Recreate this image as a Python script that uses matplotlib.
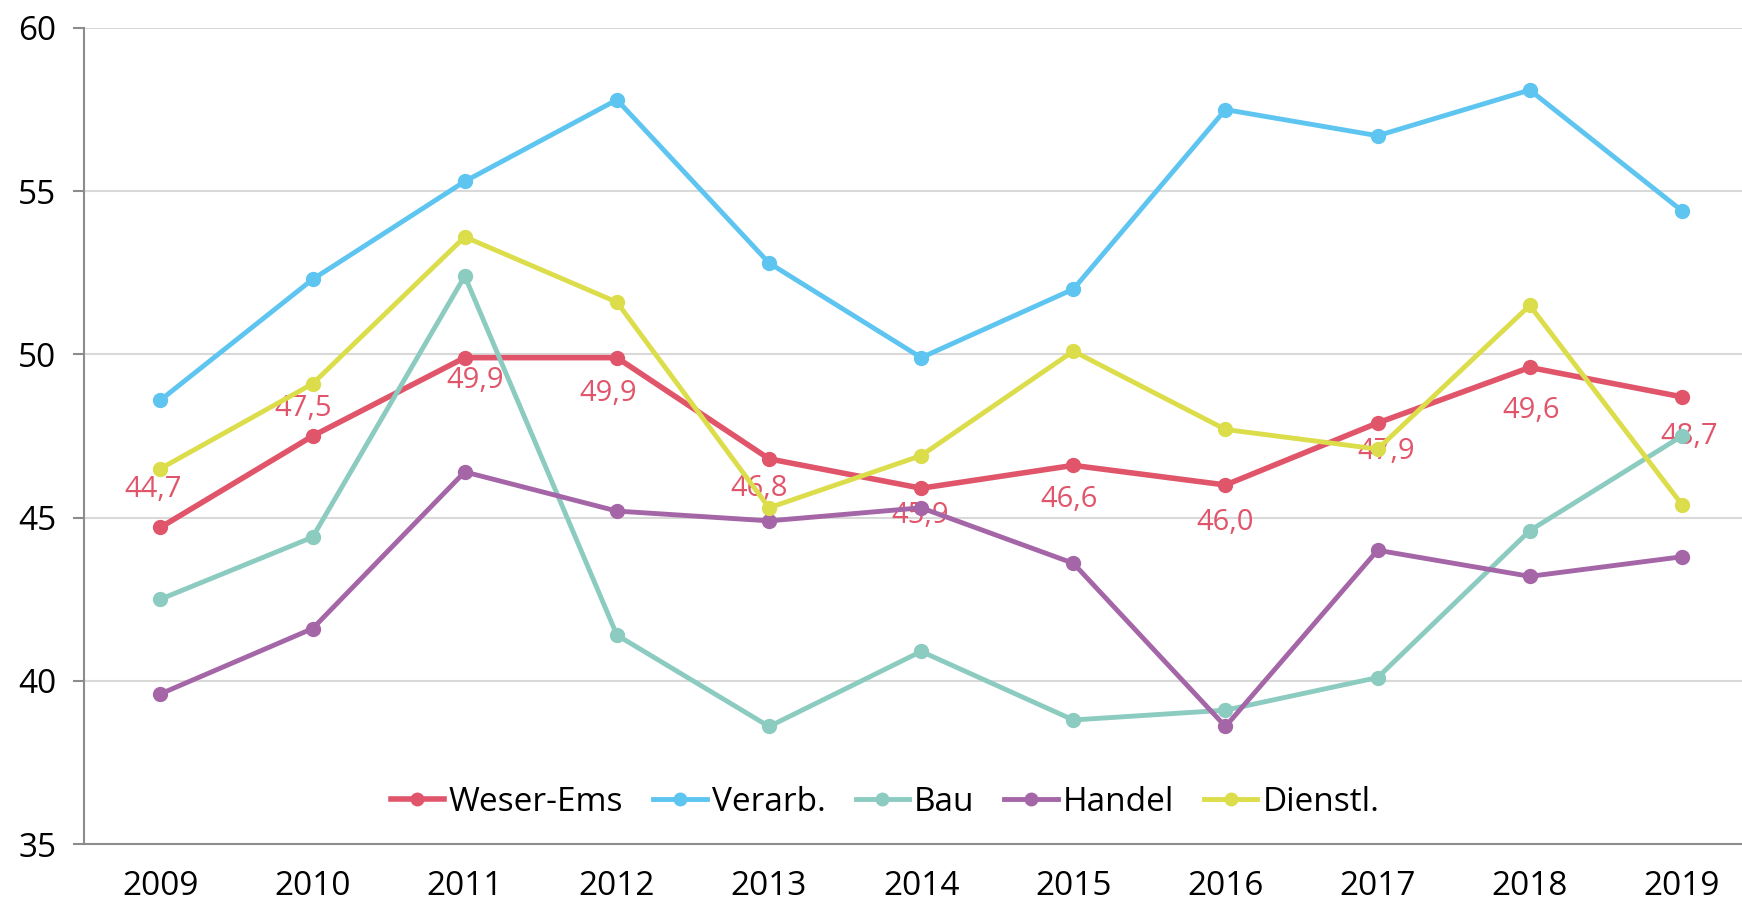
import matplotlib
matplotlib.use("Agg")
import matplotlib.pyplot as plt

plt.rcParams['font.family'] = ['Open Sans', 'DejaVu Sans']

# data
years = ['2009', '2010', '2011', '2012', '2013', '2014', '2015', '2016', '2017', '2018', '2019']
weser_ems = [44.7, 47.5, 49.9, 49.9, 46.8, 45.9, 46.6, 46.0, 47.9, 49.6, 48.7]
verarb = [48.6, 52.3, 55.3, 57.8, 52.8, 49.9, 52.0, 57.5, 56.7, 58.1, 54.4]
bau = [42.5, 44.4, 52.4, 41.4, 38.6, 40.9, 38.8, 39.1, 40.1, 44.6, 47.5]
handel = [39.6, 41.6, 46.4, 45.2, 44.9, 45.3, 43.6, 38.6, 44.0, 43.2, 43.8]
dienstl = [46.5, 49.1, 53.6, 51.6, 45.3, 46.9, 50.1, 47.7, 47.1, 51.5, 45.4]

series_names = ['Weser-Ems', 'Verarb.', 'Bau', 'Handel', 'Dienstl.']
series_values = [weser_ems, verarb, bau, handel, dienstl]
colors = ['#e0556a', '#5ec5f1', '#8ccbc0', '#a566a8', '#dcdd4a']
widths = [4.0, 3.5, 3.5, 3.5, 3.5]

# label offsets (pixels) for the Weser-Ems value labels
label_dx = [-7, -9, 10, -9, -10, -1, -4, 0, 9, 1, 7]
label_dy = [38, 28, -23, -36, -30, -27, -34, -38, -29, -43, -40]

fig = plt.figure(figsize=(17.42, 9.05), dpi=100)
ax = fig.add_axes([84.4 / 1742, 61 / 905, (1758 - 84.4) / 1742, (844 - 28) / 905])

x = list(range(len(years)))
for name, vals, c, lw in zip(series_names, series_values, colors, widths):
    ax.plot(x, vals, color=c, lw=lw, marker='o', markersize=10,
            label=name, zorder=3, solid_joinstyle='round')

for i, v in enumerate(weser_ems):
    ax.annotate(f'{v:.1f}'.replace('.', ','), (i, v),
                xytext=(label_dx[i], label_dy[i]), textcoords='offset pixels',
                ha='center', va='center', color=colors[0], fontsize=21, zorder=2.5)

ax.set_xlim(-0.5, 10.5)
ax.set_ylim(35, 60)
ax.set_yticks([35, 40, 45, 50, 55, 60])
ax.set_xticks(x)
ax.set_xticklabels(years)

ax.grid(axis='y', color='#d9d9d9', lw=1.5, zorder=0)
ax.set_axisbelow(True)
for s in ['top', 'right']:
    ax.spines[s].set_visible(False)
for s in ['left', 'bottom']:
    ax.spines[s].set_color('#8c8c8c')
    ax.spines[s].set_linewidth(1.5)

ax.tick_params(axis='y', length=8, width=1.5, color='#8c8c8c', labelsize=24, pad=12)
ax.tick_params(axis='x', length=0, labelsize=24, pad=19)

fig.legend(loc='center', bbox_to_anchor=(885 / 1742, 1 - 802 / 905), ncol=5,
           frameon=False, fontsize=24, handlelength=1.6, handletextpad=0.15,
           columnspacing=0.9, markerscale=0.9)

fig.savefig('out.png', dpi=100)
